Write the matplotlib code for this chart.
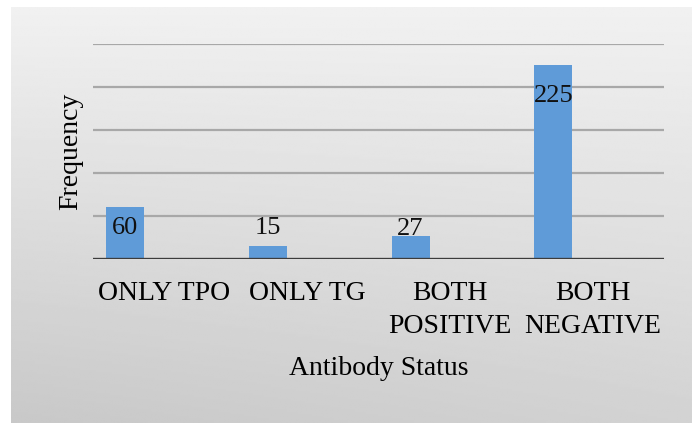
import matplotlib
matplotlib.use("Agg")
import matplotlib.pyplot as plt
import numpy as np

categories = ["ONLY TPO", "ONLY TG", "BOTH\nPOSITIVE", "BOTH\nNEGATIVE"]
counts = [60, 15, 27, 225]
label_offsets = [-15, 13, 5, -22]   # points, where the value labels sit
grid_ticks = [50, 100, 150, 200, 250]

plt.rcParams['font.family'] = ['Liberation Serif', 'DejaVu Serif']


def main():
  fig = plt.figure(figsize=(6.92, 4.23), dpi=100, facecolor='white')

  # gray gradient panel behind the chart
  bg = fig.add_axes([11 / 692, 0, 1 - 11 / 692, 1 - 7 / 423], zorder=0)
  yy, xx = np.mgrid[0:1:200j, 0:1:300j]
  shade = 0.945 - 0.12 * yy - 0.04 * (1 - xx) * yy
  bg.imshow(shade, cmap='gray', vmin=0, vmax=1, aspect='auto',
            interpolation='bilinear')
  bg.axis('off')

  ax = fig.add_axes([93 / 692, 1 - 259 / 423, (664 - 93) / 692, (259 - 44) / 423],
                    zorder=1)
  ax.patch.set_alpha(0)
  x = np.arange(len(categories))
  ax.bar(x - 0.275, counts, width=0.266, color='#5f9bd8', zorder=3)

  for xi, v, off in zip(x, counts, label_offsets):
    ax.annotate(str(v), (xi - 0.275, v), xytext=(0, off), textcoords='offset points',
                ha='center', va='center', fontsize=19, color='#111111', zorder=4)

  for g in grid_ticks:
    ax.axhline(g, color='#a8a8a8', lw=1.6, zorder=1)
  ax.axhline(0, color='#3c3c3c', lw=2.4, zorder=4)

  ax.set_xlim(-0.5, 3.5)
  ax.set_ylim(0, 250)
  ax.set_xticks(x)
  ax.set_xticklabels(categories, fontsize=20, linespacing=1.4)
  ax.tick_params(axis='x', length=0, pad=16)
  ax.set_yticks([])
  for s in ax.spines.values():
    s.set_visible(False)

  ax.set_xlabel("Antibody Status", fontsize=20)
  ax.xaxis.set_label_coords(0.5, -0.45)
  ax.set_ylabel("Frequency", fontsize=20)
  ax.yaxis.set_label_coords(-0.018, 0.5)

  plt.savefig('out.png', dpi=100)


if __name__ == "__main__":
  main()
